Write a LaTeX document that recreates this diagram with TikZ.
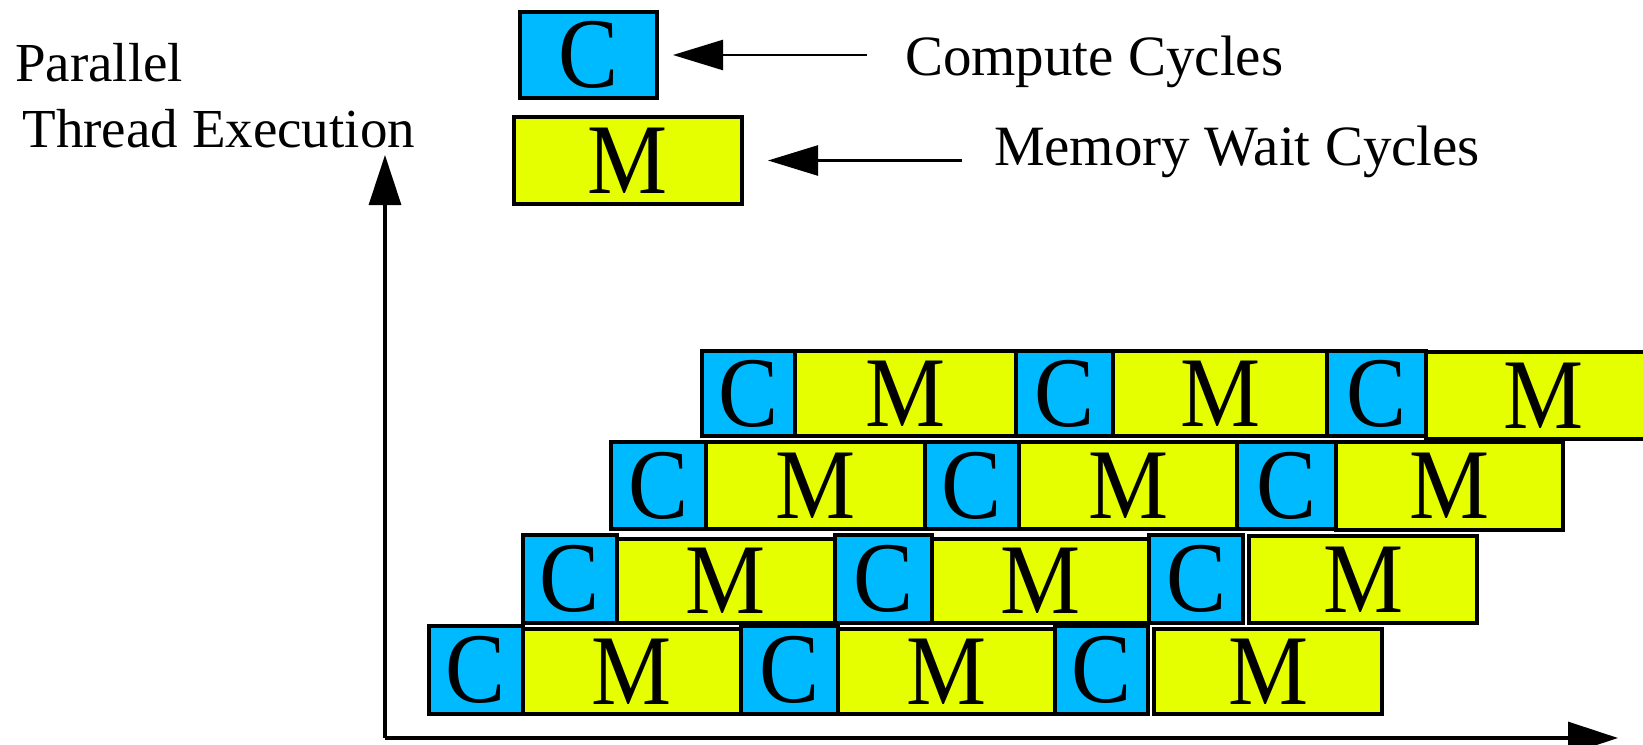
\documentclass[tikz,border=0pt]{standalone}
\usepackage{fontspec}
\setmainfont{Liberation Serif}
\newfontfamily\boxfont[FakeStretch=0.9]{Liberation Serif}
\usetikzlibrary{arrows.meta}
\definecolor{cblue}{RGB}{0,186,255}
\definecolor{myell}{RGB}{230,255,0}
\newcommand\blk[7]{\node[#2, minimum width={(#4-#3)*0.5pt}, minimum height={(#6-#5)*0.5pt}] (#1) at ({(#3+#4)/2},{(#5+#6)/2}) {#7};}
\tikzset{
  blkbase/.style={draw=black, line width=1.6pt, inner sep=0pt, outer sep=0pt,
    font=\boxfont\fontsize{50pt}{60pt}\selectfont},
  cblk/.style={blkbase, fill=cblue},
  mblk/.style={blkbase, fill=myell},
  lbl/.style={inner sep=0pt, outer sep=0pt, font=\fontsize{27.5pt}{33pt}\selectfont, anchor=base west},
  leglbl/.style={lbl, font=\fontsize{28.5pt}{34pt}\selectfont},
  arr/.style={line width=1.25pt, -{Triangle[length=25pt, width=15pt]}},
  axisline/.style={line width=1.6pt, -{Triangle[length=25pt, width=16pt]}},
}
\begin{document}
\begin{tikzpicture}[x=0.5pt, y=-0.5pt]
\useasboundingbox (0,0) rectangle (1643,744);
\clip (0,0) rectangle (1643,744);
% axis labels
\node[lbl] (par) at (15,81) {Parallel};
\node[lbl] (thr) at (22.5,147) {Thread Execution};
% legend
\blk{cleg}{cblk}{520}{657}{12}{98}{C}
\blk{mleg}{mblk}{514}{742}{117}{204}{M}
\node[leglbl] (ctext) at (905,75) {Compute Cycles};
\node[leglbl] (mtext) at (994,165) {Memory Wait Cycles};
\draw[arr, shorten <=19pt, shorten >=8pt] (ctext.west |- cleg.east) -- (cleg.east);
\draw[arr, shorten <=16pt, shorten >=13pt] (mtext.west |- mleg.east) -- (mleg.east);
% axes
\coordinate (origin) at (385,738);
\coordinate (ytop) at (385,155);
\coordinate (xend) at (1618,738);
\draw[axisline] (origin) -- (ytop);
\draw[axisline] (origin) -- (xend);
% row 4 (bottom)
\blk{r4c1}{cblk}{429}{523}{626}{714}{C}
\blk{r4m1}{mblk}{523}{741}{629}{714}{M}
\blk{r4c2}{cblk}{741}{838}{626}{714}{C}
\blk{r4m2}{mblk}{838}{1055}{629}{714}{M}
\blk{r4c3}{cblk}{1055}{1148}{626}{714}{C}
\blk{r4m3}{mblk}{1154}{1382}{629}{714}{M}
% row 3
\blk{r3c1}{cblk}{523}{617}{535}{623}{C}
\blk{r3m1}{mblk}{617}{835}{539}{623}{M}
\blk{r3c2}{cblk}{835}{932}{535}{623}{C}
\blk{r3m2}{mblk}{932}{1149}{539}{623}{M}
\blk{r3c3}{cblk}{1149}{1243}{535}{623}{C}
\blk{r3m3}{mblk}{1249}{1477}{536}{623}{M}
% row 2
\blk{r2c1}{cblk}{611}{706}{442}{529}{C}
\blk{r2m1}{mblk}{706}{925}{442}{529}{M}
\blk{r2c2}{cblk}{925}{1019}{442}{529}{C}
\blk{r2m2}{mblk}{1019}{1237}{442}{529}{M}
\blk{r2c3}{cblk}{1237}{1336}{442}{529}{C}
\blk{r2m3}{mblk}{1336}{1563}{442}{530}{M}
% row 1 (top)
\blk{r1c1}{cblk}{702}{795}{351}{436}{C}
\blk{r1m1}{mblk}{795}{1016}{351}{436}{M}
\blk{r1c2}{cblk}{1016}{1113}{351}{436}{C}
\blk{r1m2}{mblk}{1113}{1327}{351}{436}{M}
\blk{r1c3}{cblk}{1327}{1426}{351}{436}{C}
\blk{r1m3}{mblk}{1426}{1660}{352}{439}{M}
\end{tikzpicture}
\end{document}
